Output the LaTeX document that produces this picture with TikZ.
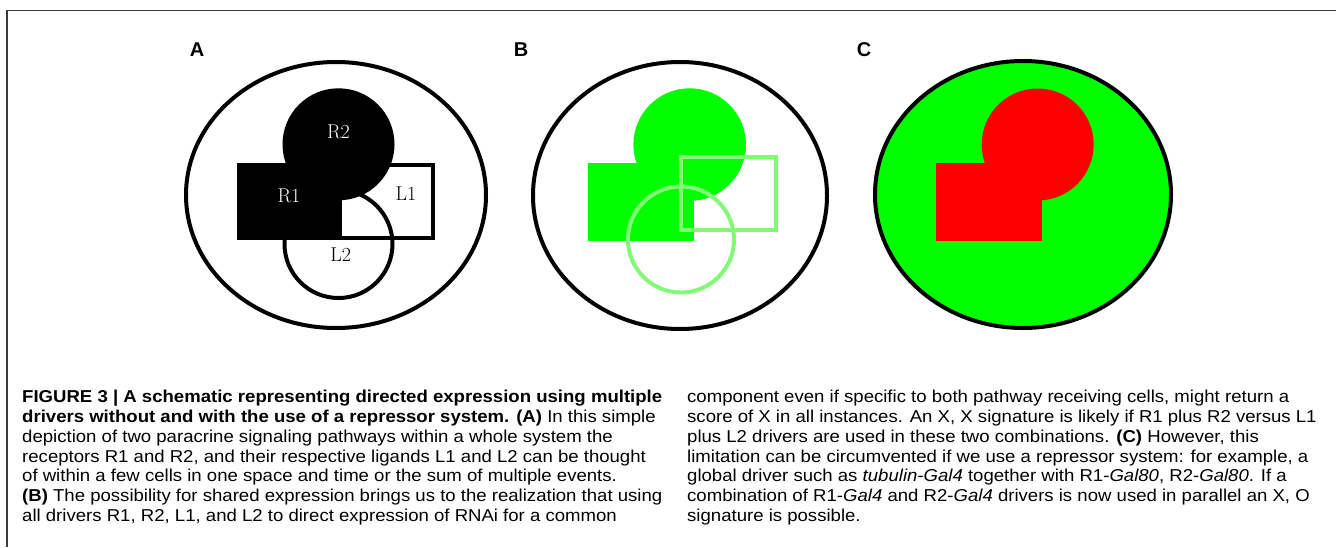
\documentclass[tikz,border=0pt]{standalone}
\usepackage{fontspec}
\newfontfamily\capfont[FakeStretch=1.08]{Liberation Sans}
\newfontfamily\tagfont{Liberation Sans}
\definecolor{cellgreen}{RGB}{0,255,0}
\definecolor{ligandgreen}{RGB}{130,250,120}
\definecolor{cellred}{RGB}{255,0,0}
\definecolor{rulegray}{RGB}{60,60,60}
\begin{document}
\begin{tikzpicture}[x=1pt,y=-1pt,
  membrane/.style={line width=4pt, draw=black},
  outline/.style={line width=4pt},
  paneltag/.style={inner sep=0pt, font=\tagfont\bfseries\fontsize{20}{24}\selectfont},
  regionlabel/.style={inner sep=0pt, font=\fontsize{20}{24}\selectfont},
  capline/.style={inner sep=0pt, anchor=base west, font=\capfont\fontsize{17.2}{20}\selectfont},
  rule/.style={draw=rulegray, line width=1.5pt}
]
\useasboundingbox (0,0) rectangle (1336,547);

% page rules
\coordinate (ruleTL) at (7,10.5);
\coordinate (ruleTR) at (1336,10.5);
\coordinate (ruleBL) at (7,547);
\draw[rule] (ruleTR) -- (ruleTL) -- (ruleBL);

% panel tags
\node[paneltag] (tagA) at (197,50) {A};
\node[paneltag] (tagB) at (521,50) {B};
\node[paneltag] (tagC) at (864,50) {C};

% ---------- panel A: receptors filled black, ligands outlined ----------
\draw[membrane] (336,195) ellipse [x radius=150pt, y radius=133pt];
\draw[outline] (320,164.7) rectangle (433,238);
\draw[outline] (338.5,244) circle [radius=54pt];
\fill[black] (237,162.7) rectangle (342,240);
\fill[black] (338.5,144.3) circle [radius=56pt];
\node[regionlabel, text=white] (aR2) at (338.5,132) {R2};
\node[regionlabel, text=white] (aR1) at (289,195.5) {R1};
\node[regionlabel] (aL1) at (406,193.7) {L1};
\node[regionlabel] (aL2) at (340.8,254.5) {L2};

% ---------- panel B: shared expression ----------
\draw[membrane] (680,195.5) ellipse [x radius=147pt, y radius=133.5pt];
\fill[cellgreen] (588,162.7) rectangle (694,240.5);
\fill[cellgreen] (689.7,144.6) circle [radius=56.3pt];
\draw[outline, ligandgreen] (680.7,157) rectangle (776.3,230.3);
\draw[outline, ligandgreen] (681,239.5) circle [radius=53pt];

% ---------- panel C: repressor system ----------
\filldraw[membrane, fill=cellgreen] (1023,194.5) ellipse [x radius=148pt, y radius=133.5pt];
\fill[cellred] (936,163) rectangle (1042,241);
\fill[cellred] (1037.7,144.5) circle [radius=56pt];

% ---------- caption, left column ----------
\node[capline] (c1) at (22,402.6) {\bfseries FIGURE 3 | A schematic representing directed expression using multiple};
\node[capline] (c2) at (22,422.4) {\bfseries drivers without and with the use of a repressor system. (A)\mdseries{} In this simple};
\node[capline] (c3) at (22,442.2) {depiction of two paracrine signaling pathways within a whole system the};
\node[capline] (c4) at (22,462.0) {receptors R1 and R2, and their respective ligands L1 and L2 can be thought};
\node[capline] (c5) at (22,481.8) {of within a few cells in one space and time or the sum of multiple events.};
\node[capline] (c6) at (22,501.6) {\textbf{(B)} The possibility for shared expression brings us to the realization that using};
\node[capline] (c7) at (22,521.4) {all drivers R1, R2, L1, and L2 to direct expression of RNAi for a common};

% ---------- caption, right column ----------
\node[capline] (d1) at (687,402.6) {component even if specific to both pathway receiving cells, might return a};
\node[capline] (d2) at (687,422.4) {score of X in all instances. An X, X signature is likely if R1 plus R2 versus L1};
\node[capline] (d3) at (687,442.2) {plus L2 drivers are used in these two combinations. \textbf{(C)} However, this};
\node[capline] (d4) at (687,462.0) {limitation can be circumvented if we use a repressor system: for example, a};
\node[capline] (d5) at (687,481.8) {global driver such as \textit{tubulin-Gal4} together with R1-\textit{Gal80}, R2-\textit{Gal80}. If a};
\node[capline] (d6) at (687,501.6) {combination of R1-\textit{Gal4} and R2-\textit{Gal4} drivers is now used in parallel an X, O};
\node[capline] (d7) at (687,521.4) {signature is possible.};
\end{tikzpicture}
\end{document}
